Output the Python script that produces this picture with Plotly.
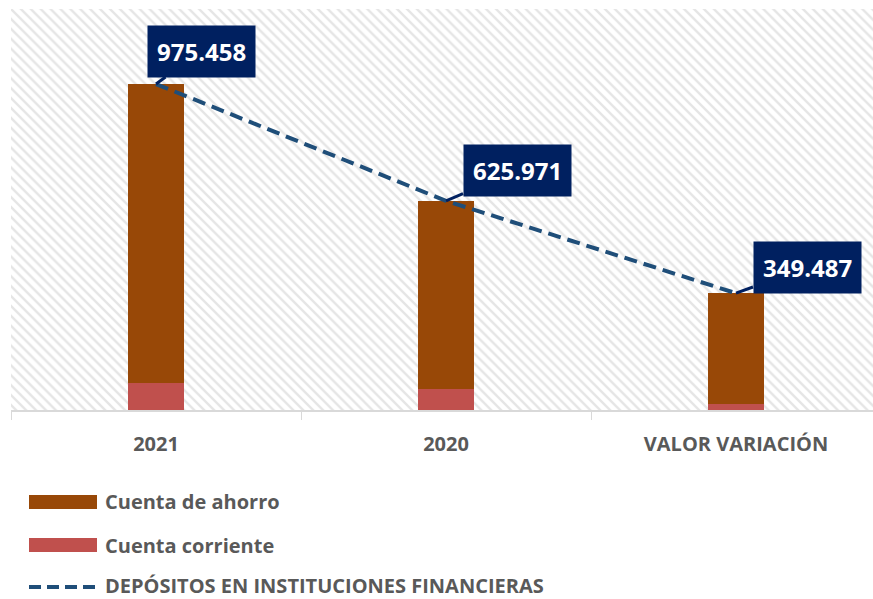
import plotly.graph_objects as go

categorias = ['2021', '2020', 'VALOR VARIACIÓN']
cuenta_corriente = [80.0, 62.0, 18.0]
cuenta_ahorro = [895.458, 563.971, 331.487]
depositos = [975.458, 625.971, 349.487]
etiquetas = ['975.458', '625.971', '349.487']

# el área de trazado continúa más allá del borde derecho de la ventana
W, H = 890, 599
L, R, T, B = 11, 0, 9, 189
FONT = 'Open Sans, sans-serif'
GRIS = '#595959'


def px(x):
    return (x - L) / (W - L - R)


def py(y):
    return (H - B - y) / (H - T - B)


fig = go.Figure()

# fondo rayado del área de trazado
fig.add_trace(go.Bar(
    x=[0.5], y=[1.05], width=[1.1], xaxis='x', yaxis='y',
    marker=dict(color='white', line_width=0,
                pattern=dict(shape='\\', fgcolor='#cccccc', bgcolor='white',
                             size=7, solidity=0.35)),
    showlegend=False, hoverinfo='skip'))

fig.add_trace(go.Bar(
    x=categorias, y=cuenta_corriente, name='Cuenta corriente',
    xaxis='x2', yaxis='y2', width=0.19,
    marker=dict(color='#C0504D', line_width=0)))
fig.add_trace(go.Bar(
    x=categorias, y=cuenta_ahorro, name='Cuenta de ahorro',
    xaxis='x2', yaxis='y2', width=0.19,
    marker=dict(color='#984807', line_width=0)))
fig.add_trace(go.Scatter(
    x=categorias, y=depositos, name='DEPÓSITOS EN INSTITUCIONES FINANCIERAS',
    xaxis='x2', yaxis='y2', mode='lines',
    line=dict(color='#1F4E79', width=4, dash='13px,7px')))

offsets = [(45, -33), (71, -30), (71, -26)]
for i, (val, txt, (ax, ay)) in enumerate(zip(depositos, etiquetas, offsets)):
    fig.add_annotation(
        x=i, y=val, xref='x2', yref='y2', text='<b>%s</b>' % txt,
        showarrow=True, arrowhead=0, arrowwidth=3, arrowcolor='#002060',
        ax=ax, ay=ay, standoff=0,
        bgcolor='#002060', borderpad=9,
        font=dict(family=FONT, size=24, color='white'))

# leyenda dibujada a mano
leyenda = [('Cuenta de ahorro', '#984807', 'rect', 502),
           ('Cuenta corriente', '#C0504D', 'rect', 545),
           ('DEPÓSITOS EN INSTITUCIONES FINANCIERAS', '#1F4E79', 'line', 585)]
for nombre, color, tipo, yc in leyenda:
    if tipo == 'rect':
        fig.add_shape(type='rect', xref='paper', yref='paper',
                      x0=px(29), x1=px(97), y0=py(yc - 7), y1=py(yc + 7),
                      fillcolor=color, line_width=0)
    else:
        fig.add_shape(type='line', xref='paper', yref='paper',
                      x0=px(29), x1=px(97), y0=py(yc + 2), y1=py(yc + 2),
                      line=dict(color=color, width=4, dash='12px,6px'))
    fig.add_annotation(x=px(103), y=py(yc), xref='paper', yref='paper',
                       xanchor='left', yanchor='middle', showarrow=False,
                       text='<b>%s</b>' % nombre,
                       font=dict(family=FONT, size=20, color=GRIS))

fig.update_layout(
    width=W, height=H, barmode='stack', showlegend=False,
    margin=dict(l=L, r=R, t=T, b=B),
    paper_bgcolor='white', plot_bgcolor='white',
    font=dict(family=FONT, color=GRIS),
    xaxis=dict(range=[0, 1], visible=False, fixedrange=True),
    yaxis=dict(range=[0, 1], visible=False, fixedrange=True),
    xaxis2=dict(overlaying='x', type='category',
                range=[-0.5, -0.5 + (W - L - R) / 290],
                showline=True, linecolor='#d9d9d9', linewidth=2,
                ticks='outside', tickson='boundaries', ticklen=8,
                tickcolor='#d9d9d9', tickwidth=1, showgrid=False,
                ticklabelstandoff=15, tickprefix='<b>', ticksuffix='</b>',
                tickfont=dict(family=FONT, size=20, color=GRIS)),
    yaxis2=dict(overlaying='y', range=[0, 1200], visible=False,
                showgrid=False, zeroline=False),
)

# quitar el margen por defecto del cuerpo de la página
fig.write_html('out.html', config={'displayModeBar': False}, post_script=(
    "document.body.style.margin='0';"
    "document.body.style.overflow='hidden';"))
